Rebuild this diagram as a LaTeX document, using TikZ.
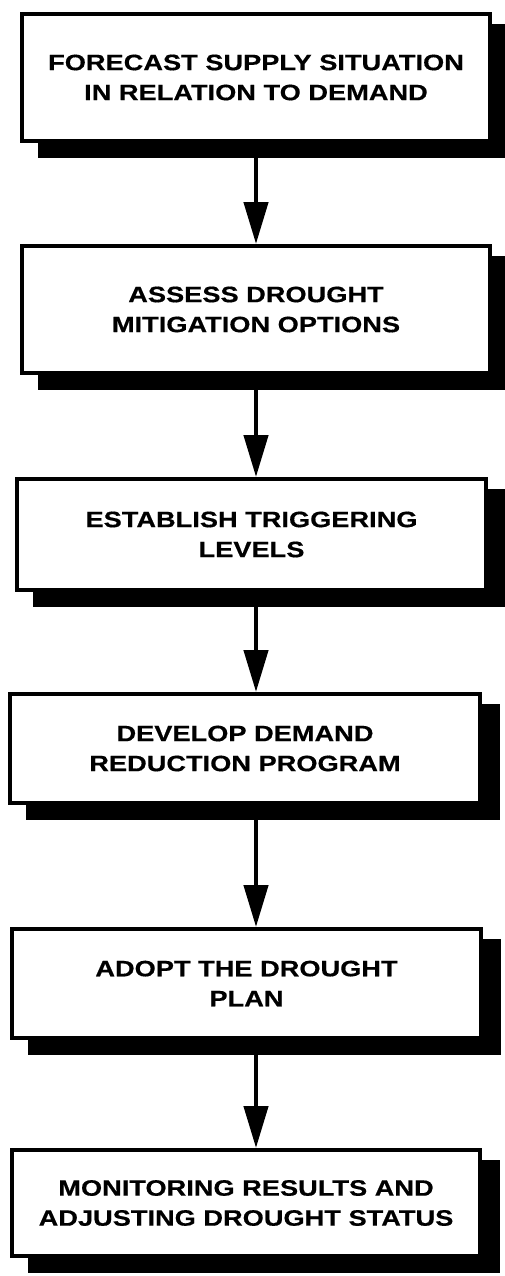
\documentclass[tikz,border=0pt]{standalone}
\usepackage{fontspec}
\setmainfont{Liberation Sans}
\newfontfamily\boxfont[FakeStretch=1.22,FakeBold=0.5]{Liberation Sans}
\usetikzlibrary{arrows.meta,backgrounds}
\begin{document}
\begin{tikzpicture}[x=1pt,y=1pt,
  stepbox/.style={draw=black, line width=4pt, fill=white, rectangle, inner sep=0pt,
    align=center, font=\boxfont\fontsize{22.3}{30}\selectfont\bfseries},
  boxshadow/.style={fill=black},
  flow/.style={line width=4.5pt, -{Triangle[length=42pt,width=24pt]}}]
\useasboundingbox (0,0) rectangle (505,-1276);
\coordinate (ax) at (256,0);

\node[stepbox, minimum width=468, minimum height=127] (b1) at (256,-77.5)
  {FORECAST SUPPLY SITUATION\\IN RELATION TO DEMAND};
\node[stepbox, minimum width=468, minimum height=127] (b2) at (256,-309.5)
  {ASSESS DROUGHT\\MITIGATION OPTIONS};
\node[stepbox, minimum width=469, minimum height=111] (b3) at (251.5,-534.5)
  {ESTABLISH TRIGGERING\\LEVELS};
\node[stepbox, minimum width=470, minimum height=109] (b4) at (245,-748.5)
  {DEVELOP DEMAND\\REDUCTION PROGRAM};
\node[stepbox, minimum width=469, minimum height=109] (b5) at (246.5,-983.5)
  {ADOPT THE DROUGHT\\PLAN};
\node[stepbox, minimum width=468, minimum height=106] (b6) at (246,-1203)
  {MONITORING RESULTS AND\\ADJUSTING DROUGHT STATUS};

\begin{scope}[on background layer]
  \foreach \b in {b1,b2,b3,b4,b5,b6}
    \fill[boxshadow] ([shift={(18,-12)}]\b.north west) rectangle ([shift={(18,-15)}]\b.south east);
\end{scope}

\draw[flow] (ax |- b1.south) -- (ax |- b2.north);
\draw[flow] (ax |- b2.south) -- (ax |- b3.north);
\draw[flow] (ax |- b3.south) -- (ax |- b4.north);
\draw[flow] (ax |- b4.south) -- (ax |- b5.north);
\draw[flow] (ax |- b5.south) -- (ax |- b6.north);
\end{tikzpicture}
\end{document}
